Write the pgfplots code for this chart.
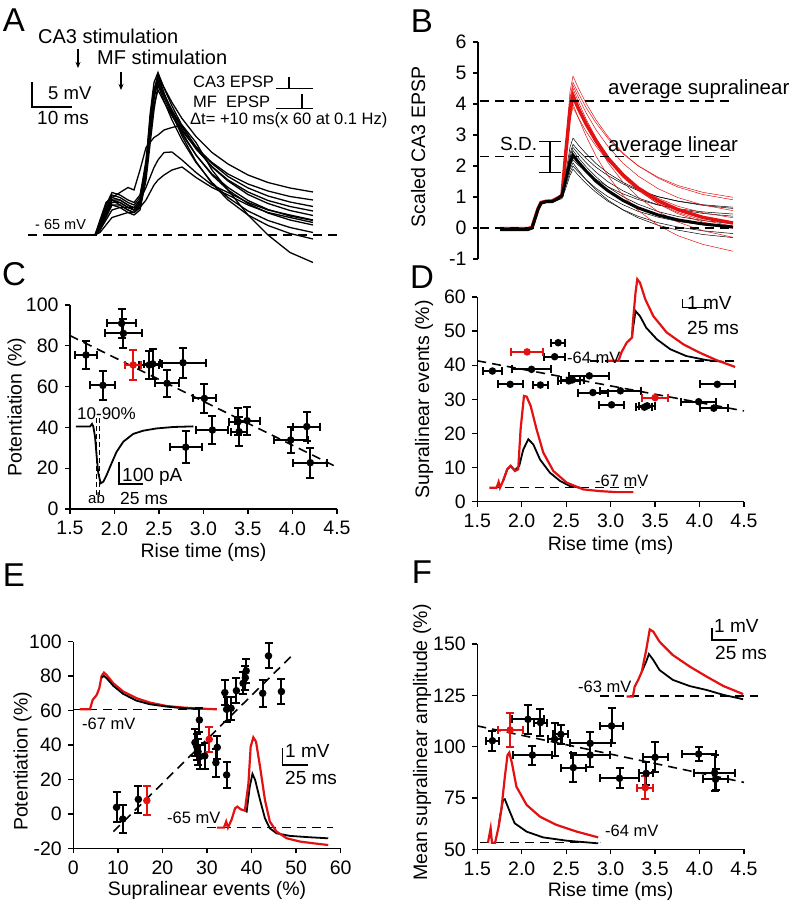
\documentclass[border=0pt]{standalone}
\usepackage{fontspec}
\setmainfont{Liberation Sans}
\usepackage{pgfplots}
\usepackage{pgfplotstable}
\pgfplotsset{compat=1.18}
\usetikzlibrary{arrows.meta}
\definecolor{myred}{RGB}{226,18,18}
\newcommand\fs[1]{\fontsize{#1}{#1}\selectfont}

\pgfplotsset{
 panel/.style={scale only axis, axis lines=left, axis line style={-, line width=1.3pt},
   tick align=outside, major tick length=5pt, tick style={line width=1.3pt, black},
   ticklabel style={font=\fs{19.5}}, xticklabel shift=4pt, yticklabel shift=3pt,
   /pgf/number format/assume math mode=true, clip=false, minor tick num=0},
 ylab/.style 2 args={every axis y label/.style={at={(axis description cs:#1,#2)}, anchor=center, rotate=90, font=\fs{19.5}}},
 xlab/.style={every axis x label/.style={at={(axis description cs:0.5,#1)}, anchor=center, font=\fs{19.5}}},
 pts/.style={only marks, mark=*, mark size=2.7pt, line width=2pt,
   error bars/error bar style={line width=2pt},
   error bars/error mark options={rotate=90, mark size=4pt, line width=2pt}},
 fit/.style={black, line width=1.6pt, dash pattern=on 9pt off 6pt},
 tr/.style={black, line width=1.8pt},
 trr/.style={myred, line width=2.2pt},
}

\pgfplotstableread{
t n1 n2 n3 n4 n5 n6 n7 n8 n9 s1 s2 o
5 0 0 0 0 0 0 0 0 0 0 0 0
16.75 0 0 0 0 0 0 0 0 0 0 0 0
18 2 1.5 2 1 1.5 2.5 1 1.8 1.2 1 0.5 3
19.5 5.5 4.5 5 4 4 6 3.5 5 4.2 3 2 6.5
21 8 7 7.5 6.5 6 8.5 6 7 7 5 3.5 7.5
23 7.5 6 7 6.5 5.5 8 6 6.5 7 5.5 4 8.5
25 6.5 5 6 5.5 4.5 7 5 5.5 6 5.5 4.5 9.5
26.5 6 4.5 5 5 4 6.5 4.5 5 5.5 5.5 4.5 9
28 7.5 6 6.5 6 5 8 5.5 6.5 6.8 7 5.5 13
29.5 15 13 14 12 11 14 12 13 13.5 9.5 7 17.5
30.5 23 21 24 20 18 20 21 22 22 11.5 8.5 18.5
31.5 29 28 30.5 27 25 26 28.5 28 29 13.5 10 19.5
32.5 32 31 32.5 31.5 30 29 32 30.5 31 15 11 20
34 29.5 28.2 29.4 28.3 26.8 26.6 28.4 27.5 28.1 16.5 12 21
36 26.5 25 25.8 24.5 23 23.8 24.3 24 24.8 16.6 13 21.5
38.5 23.3 21.6 21.9 20.5 19 20.8 19.8 20.2 21.2 15 13.6 22
42 19.7 17.7 17.5 16 14.5 17.4 14.7 16 17.2 12.5 11.5 18.5
46 16.5 14.3 13.6 12 10.5 14.5 10.3 12.2 13.7 10 9.5 13
50 14.2 11.7 10.8 9 7.5 12.2 7 9.5 11 8.5 8 9
55 12 9.4 8.1 6.3 4.8 10.2 4 6.9 8.6 6.5 6 4
60 10.5 7.8 6.3 4.4 2.9 8.8 1.9 5.1 6.9 5 4.5 0
65.5 9.4 6.6 4.9 3 1.5 7.7 0.3 3.8 5.7 4 3.5 -3.5
71.25 8.6 5.7 3.9 2 0.5 7 -0.8 2.9 4.8 3 2.5 -5.5
}\tabA

\pgfplotstableread{
x ba b1 b2 b3 b4 b5 b6 b7 b8 ra r1 r2 r3 r4 r5 r6 r7 r8
22 -0.05 -0.05 -0.04 -0.06 -0.05 -0.05 -0.04 -0.05 -0.04 -0.02 -0.02 -0.03 -0.02 -0.01 -0.03 -0.02 -0.02 -0.03
50 -0.05 -0.05 -0.04 -0.06 -0.05 -0.05 -0.04 -0.05 -0.04 -0.02 -0.02 -0.03 -0.02 -0.01 -0.03 -0.02 -0.02 -0.03
54 0.0 0.0 0.02 -0.02 0.0 0.01 0.0 0.01 0.0 0.02 0.03 0.01 0.02 0.0 0.02 0.03 0.02 0.01
57 0.3 0.32 0.28 0.3 0.27 0.31 0.3 0.31 0.29 0.32 0.35 0.3 0.28 0.33 0.3 0.31 0.33 0.3
60 0.6 0.62 0.58 0.6 0.57 0.61 0.6 0.61 0.59 0.62 0.65 0.6 0.58 0.63 0.6 0.61 0.63 0.6
63 0.8 0.82 0.78 0.8 0.77 0.81 0.8 0.81 0.79 0.82 0.85 0.8 0.78 0.83 0.8 0.81 0.83 0.8
68 0.85 0.87 0.84 0.85 0.82 0.86 0.85 0.86 0.84 0.86 0.9 0.85 0.83 0.88 0.85 0.86 0.88 0.85
74 0.85 0.88 0.83 0.86 0.82 0.86 0.85 0.86 0.84 0.87 0.9 0.86 0.84 0.88 0.85 0.86 0.88 0.85
80 0.95 0.98 0.93 0.96 0.9 0.96 0.95 0.96 0.94 0.97 1.0 0.96 0.94 0.98 0.95 0.96 0.98 0.95
84 1.05 1.05 1.0 1.05 0.95 1.0 1.0 1.02 1.0 1.05 1.05 1.0 1.05 1.0 1.05 1.0 1.03 1.02
88 1.6 1.8 1.7 1.5 1.3 1.6 1.5 1.7 1.4 2.5 2.8 2.6 2.4 2.5 2.3 2.6 2.7 2.4
92 2.1 2.6 2.3 1.9 1.7 2.2 2.0 2.4 1.8 3.8 4.4 4.1 3.6 3.9 3.5 4.0 4.2 3.7
95 2.35 2.9 2.6 2.1 1.9 2.5 2.2 2.7 2.0 4.25 4.9 4.6 4.0 4.4 3.9 4.5 4.7 4.2
100 2.14 2.69 2.40 1.88 1.71 2.28 2.04 2.51 1.82 3.88 4.54 4.24 3.58 3.98 3.58 4.1 4.37 3.83
108 1.84 2.4 2.11 1.56 1.44 1.98 1.81 2.25 1.56 3.36 4.03 3.72 2.97 3.38 3.12 3.52 3.89 3.3
118 1.51 2.08 1.80 1.23 1.15 1.65 1.57 1.96 1.28 2.81 3.49 3.17 2.32 2.74 2.64 2.91 3.39 2.74
130 1.2 1.77 1.49 0.9 0.86 1.32 1.33 1.69 1.01 2.25 2.95 2.63 1.68 2.11 2.16 2.3 2.89 2.18
145 0.89 1.47 1.2 0.58 0.59 1.01 1.10 1.42 0.75 1.71 2.42 2.09 1.05 1.48 1.68 1.7 2.39 1.63
160 0.65 1.24 0.97 0.33 0.38 0.77 0.92 1.21 0.54 1.29 2.01 1.68 0.57 1.0 1.32 1.24 2.01 1.21
180 0.42 1.01 0.75 0.09 0.17 0.53 0.74 1.01 0.35 0.88 1.61 1.27 0.09 0.53 0.96 0.78 1.64 0.79
200 0.26 0.86 0.6 -0.07 0.03 0.37 0.62 0.87 0.21 0.59 1.32 0.98 -0.25 0.19 0.7 0.46 1.37 0.5
225 0.13 0.73 0.47 -0.21 -0.09 0.24 0.52 0.75 0.1 0.34 1.08 0.74 -0.53 -0.09 0.49 0.19 1.15 0.25
255 0.03 0.63 0.38 -0.31 -0.18 0.14 0.45 0.67 0.02 0.16 0.91 0.56 -0.75 -0.3 0.33 -0.01 0.99 0.06
}\tabB

\pgfplotstableread{
x y ex ey
1.68 75.5 0.12 6.7
1.87 60.6 0.14 7.0
2.08 91.0 0.16 7.0
2.10 86.1 0.21 7.2
2.39 70.6 0.11 7.0
2.43 71.1 0.10 7.5
2.59 61.6 0.14 6.7
2.77 71.7 0.26 7.3
3.01 54.2 0.13 7.0
2.80 30.3 0.18 7.8
3.10 38.7 0.18 6.7
3.39 42.8 0.10 6.5
3.40 37.9 0.09 7.2
3.49 43.3 0.14 6.9
3.98 33.8 0.19 6.4
4.16 40.4 0.15 7.2
4.20 22.7 0.19 7.4
}\tabC
\pgfplotstableread{
x y ex ey
2.21 70.6 0.09 7.4
}\tabCr

\pgfplotstableread{
x y ex
1.67 38.3 0.11
1.87 34.4 0.14
2.11 38.8 0.22
2.21 34.2 0.085
2.37 42.5 0.12
2.41 46.6 0.08
2.53 35.4 0.12
2.57 35.7 0.13
2.76 36.9 0.225
2.80 32.0 0.17
3.01 28.4 0.14
3.11 32.5 0.235
3.38 27.7 0.09
3.41 28.1 0.09
3.99 29.3 0.2
4.20 34.4 0.2
4.16 27.4 0.155
}\tabD
\pgfplotstableread{
x y ex
2.06 43.9 0.18
3.50 30.5 0.15
}\tabDr

\pgfplotstableread{
x y ey
9.7 3.8 8.7
11.1 -3.0 8.2
14.6 8.4 8.0
27.3 41.4 7.7
27.7 39.0 7.5
28.0 36.1 7.5
28.3 54.5 6.8
28.4 33.2 7.0
29.5 33.6 7.3
32.0 29.7 8.2
32.3 38.6 6.6
34.4 22.6 7.7
34.0 70.4 7.2
34.4 60.7 7.2
35.4 61.3 6.8
36.6 71.5 7.3
38.1 75.8 6.5
38.6 79.0 7.0
38.8 83.0 7.0
42.5 70.0 7.7
43.8 91.7 7.2
46.7 71.0 7.4
}\tabE
\pgfplotstableread{
x y ey
16.5 7.7 8.2
30.5 43.3 7.2
}\tabEr

\pgfplotstableread{
x y ex ey
1.67 102.9 0.075 4.9
2.07 113.3 0.18 7.0
2.12 95.9 0.22 4.6
2.21 111.7 0.07 6.5
2.37 103.6 0.08 8.0
2.44 106.0 0.085 4.6
2.58 89.8 0.14 7.1
2.77 101.6 0.23 5.7
2.77 95.9 0.22 6.0
3.01 110.1 0.13 8.5
3.10 84.6 0.22 4.9
3.40 87.0 0.08 5.5
3.50 94.8 0.14 7.3
3.99 96.4 0.19 3.5
4.17 87.3 0.23 8.8
4.18 84.1 0.14 5.0
}\tabF
\pgfplotstableread{
x y ex ey
1.87 108.1 0.14 8.5
3.39 80.0 0.09 5.7
}\tabFr

\begin{document}
\begin{tikzpicture}
\path[use as bounding box] (0,0) rectangle (796pt,906pt);

% ---------------- A ----------------
\begin{axis}[at={(28pt,631pt)}, anchor=south west, scale only axis, width=315pt, height=215pt,
  xmin=0, xmax=78.75, ymin=-8, ymax=35, hide axis, clip=false]
\pgfplotsinvokeforeach{n1,n2,n3,n4,n5,n6,n7,n8,n9,s1,s2,o}{
  \addplot[black, line width=1.3pt, no marks] table[x=t,y=#1]{\tabA};}
\addplot[black, line width=1.3pt, dash pattern=on 9pt off 6pt] coordinates {(0,0)(78.75,0)};
\addplot[black, line width=1.3pt] coordinates {(1,30.6)(1,25.6)(11,25.6)};
\addplot[black, line width=1.2pt] coordinates {(62,29.3)(71.25,29.3)};
\addplot[black, line width=1.2pt] coordinates {(65.25,31.6)(65.25,29.3)};
\addplot[black, line width=1.2pt] coordinates {(62,25.3)(71.25,25.3)};
\addplot[black, line width=1.2pt] coordinates {(68.5,28.2)(68.5,25.3)};
\end{axis}

% ---------------- B ----------------
\begin{axis}[panel, at={(478pt,647pt)}, anchor=south west, width=270pt, height=217pt,
  xmin=0, xmax=270, ymin=-1, ymax=6, axis x line=none, ytick={-1,0,...,6},
  ylabel={Scaled CA3 EPSP}, ylab={-0.222}{0.516}]
\pgfplotsinvokeforeach{b1,b2,b3,b4,b5,b6,b7,b8}{
  \addplot[black, line width=0.5pt, no marks] table[x=x,y=#1]{\tabB};}
\pgfplotsinvokeforeach{r1,r2,r3,r4,r5,r6,r7,r8}{
  \addplot[myred, line width=0.5pt, no marks] table[x=x,y=#1]{\tabB};}
\addplot[myred, line width=3.5pt, no marks] table[x=x,y=ra]{\tabB};
\addplot[black, line width=3pt, no marks] table[x=x,y=ba]{\tabB};
\addplot[fit, line width=1.3pt] coordinates {(2,0)(255,0)};
\addplot[fit, line width=1.3pt] coordinates {(2,2.3)(255,2.3)};
\addplot[fit, line width=1.3pt] coordinates {(2,4.1)(255,4.1)};
\addplot[black, line width=1.3pt] coordinates {(72,1.8)(72,2.8)};
\addplot[black, line width=1.3pt] coordinates {(61,2.8)(83,2.8)};
\addplot[black, line width=1.3pt] coordinates {(61,1.8)(83,1.8)};
\end{axis}

% ---------------- C ----------------
\begin{axis}[panel, at={(70pt,397pt)}, anchor=south west, width=267pt, height=204pt,
  xmin=1.5, xmax=4.5, ymin=0, ymax=100, xtick={1.5,2,...,4.5}, ytick={0,20,...,100},
  xticklabel style={/pgf/number format/fixed, /pgf/number format/fixed zerofill, /pgf/number format/precision=1},
  xlabel={Rise time (ms)}, ylabel={Potentiation (\%)}, ylab={-0.2}{0.5}, xlab={-0.215}]
\addplot[tr] coordinates {(1.567,40.4)(1.725,40.4)(1.747,41.7)(1.762,40.4)(1.781,35.5)(1.80,25.7)(1.818,17.5)(1.845,12.6)(1.875,13.4)(1.912,16.7)(1.968,22.5)(2.024,28.1)(2.099,33.0)(2.21,36.8)(2.324,38.4)(2.474,39.5)(2.661,40.2)(2.886,40.5)};
\addplot[black, line width=1pt, dash pattern=on 5pt off 3pt] coordinates {(1.80,44.6)(1.80,6.9)};
\addplot[black, line width=1pt, dash pattern=on 5pt off 3pt] coordinates {(1.837,44.6)(1.837,6.9)};
\addplot[black, line width=1.3pt] coordinates {(2.05,23.2)(2.05,12.25)(2.32,12.25)};
\addplot[fit] coordinates {(1.5,85)(4.5,20.5)};
\addplot[pts, black, error bars/x dir=both, error bars/x explicit, error bars/y dir=both, error bars/y explicit]
  table[x=x, y=y, x error=ex, y error=ey]{\tabC};
\addplot[pts, myred, error bars/x dir=both, error bars/x explicit, error bars/y dir=both, error bars/y explicit]
  table[x=x, y=y, x error=ex, y error=ey]{\tabCr};
\end{axis}

% ---------------- D ----------------
\begin{axis}[panel, at={(477.3pt,404.3pt)}, anchor=south west, width=266.7pt, height=204.7pt,
  xmin=1.5, xmax=4.5, ymin=0, ymax=60, xtick={1.5,2,...,4.5}, ytick={0,10,...,60},
  xticklabel style={/pgf/number format/fixed, /pgf/number format/fixed zerofill, /pgf/number format/precision=1},
  xlabel={Rise time (ms)}, ylabel={Supralinear events (\%)}, ylab={-0.2}{0.5}, xlab={-0.215}]
\addplot[black, line width=1.2pt, dash pattern=on 9pt off 6pt] coordinates {(2.77,41.25)(4.42,41.25)};
\addplot[black, line width=1.2pt, dash pattern=on 9pt off 6pt] coordinates {(1.64,4.1)(3.33,4.1)};
\addplot[tr] coordinates {(3.24,48.1)(3.25,50.5)(3.28,55.9)(3.33,54.4)(3.40,51.0)(3.52,47.6)(3.67,44.7)(3.85,42.7)(4.08,41.5)(4.27,41.0)};
\addplot[trr] coordinates {(2.97,41.3)(3.09,41.3)(3.12,43.7)(3.18,46.6)(3.24,48.1)(3.25,52.5)(3.28,61.3)(3.30,65.2)(3.33,64.2)(3.39,59.3)(3.48,54.4)(3.63,49.6)(3.82,46.1)(4.0,43.7)(4.19,41.5)(4.40,39.5)};
\addplot[tr] coordinates {(1.79,6.1)(1.837,9.5)(1.875,10.5)(1.924,9.2)(1.972,10.5)(2.017,15.3)(2.074,18.3)(2.13,16.8)(2.205,12.4)(2.317,8.5)(2.43,6.1)(2.54,4.6)(2.655,4.1)};
\addplot[trr] coordinates {(1.635,4.1)(1.717,4.1)(1.74,5.8)(1.755,4.1)(1.79,6.1)(1.837,9.5)(1.875,10.5)(1.924,9.0)(1.96,9.5)(1.987,21.2)(2.025,31.0)(2.055,30.8)(2.10,28.1)(2.167,21.2)(2.242,14.4)(2.355,9.0)(2.505,5.6)(2.692,3.6)(2.88,3.1)(3.067,2.8)(3.255,2.8)};
\addplot[black, line width=1.3pt] coordinates {(3.81,59.5)(3.81,56.9)(4.11,56.9)};
\addplot[fit] coordinates {(1.5,41.3)(4.5,26.6)};
\addplot[pts, black, error bars/x dir=both, error bars/x explicit]
  table[x=x, y=y, x error=ex]{\tabD};
\addplot[pts, myred, error bars/x dir=both, error bars/x explicit]
  table[x=x, y=y, x error=ex]{\tabDr};
\end{axis}

% ---------------- E ----------------
\begin{axis}[panel, at={(73.3pt,57.7pt)}, anchor=south west, width=267.4pt, height=206.7pt,
  xmin=0, xmax=60, ymin=-20, ymax=100, xtick={0,10,...,60}, ytick={-20,0,...,100},
  xlabel={Supralinear events (\%)}, ylabel={Potentiation (\%)}, ylab={-0.19}{0.42}, xlab={-0.205}]
\addplot[black, line width=1.2pt, dash pattern=on 9pt off 6pt] coordinates {(0,60.7)(32.5,60.7)};
\addplot[black, line width=1.2pt, dash pattern=on 9pt off 6pt] coordinates {(29.9,-8)(58.3,-8)};
\addplot[trr] coordinates {(1.5,60.7)(3.74,60.7)(4.34,66.1)(5.24,69.0)(5.83,72.9)(6.36,80.1)(6.88,82.0)(7.48,80.6)(8.98,75.8)(11.2,71.0)(14.2,67.1)(17.2,64.6)(20.9,62.6)(24.7,61.7)(28.4,61.1)(32.2,60.7)};
\addplot[tr] coordinates {(6.36,79.1)(6.88,80.1)(7.48,78.7)(8.98,74.3)(11.2,69.6)(14.2,65.7)(17.2,63.6)(20.9,62.3)(24.7,61.3)(28.4,60.9)};
\addplot[tr] coordinates {(38.5,1.9)(38.9,1.3)(39.6,15.8)(40.2,23.2)(40.8,19.7)(41.9,8.1)(43.0,-2.6)(44.1,-8.4)(45.6,-11.3)(48.6,-12.8)(53.1,-13.6)(57.2,-14.2)};
\addplot[trr] coordinates {(32.2,-8.0)(33.8,-8.0)(34.3,-4.5)(34.7,-8.0)(35.5,-3.5)(36.3,3.2)(36.8,4.2)(37.6,2.6)(38.5,1.9)(39.3,17.7)(39.8,39.0)(40.4,44.4)(41.0,41.9)(41.9,27.4)(43.0,8.1)(44.1,-4.5)(45.6,-10.3)(47.9,-14.2)(50.9,-16.1)(53.9,-17.1)(57.2,-18.1)};
\addplot[black, line width=1.3pt] coordinates {(47.0,38.1)(47.0,28.4)(52.7,28.4)};
\addplot[fit] coordinates {(9,-10.3)(49,91.7)};
\addplot[pts, black, error bars/y dir=both, error bars/y explicit]
  table[x=x, y=y, y error=ey]{\tabE};
\addplot[pts, myred, error bars/y dir=both, error bars/y explicit]
  table[x=x, y=y, y error=ey]{\tabEr};
\end{axis}

% ---------------- F ----------------
\begin{axis}[panel, at={(477.3pt,56.7pt)}, anchor=south west, width=266.7pt, height=205.3pt,
  xmin=1.5, xmax=4.5, ymin=50, ymax=150, xtick={1.5,2,...,4.5}, ytick={50,75,...,150},
  xticklabel style={/pgf/number format/fixed, /pgf/number format/fixed zerofill, /pgf/number format/precision=1},
  xlabel={Rise time (ms)}, ylabel={Mean supralinear amplitude (\%)}, ylab={-0.207}{0.52}, xlab={-0.205}]
\addplot[black, line width=1.2pt, dash pattern=on 9pt off 6pt] coordinates {(2.88,124.7)(4.66,124.7)};
\addplot[black, line width=1.2pt, dash pattern=on 9pt off 6pt] coordinates {(1.53,53.2)(2.88,53.2)};
\addplot[tr] coordinates {(3.35,136.5)(3.40,141.4)(3.43,145.1)(3.48,142.2)(3.55,137.3)(3.70,132.5)(3.89,129.5)(4.08,127.6)(4.27,125.2)(4.49,123.1)};
\addplot[trr] coordinates {(3.18,124.4)(3.25,124.4)(3.27,129.2)(3.31,132.5)(3.35,136.5)(3.40,147.1)(3.44,157.1)(3.48,156.0)(3.55,151.1)(3.70,144.6)(3.89,139.0)(4.08,134.1)(4.27,129.5)(4.49,125.6)};
\addplot[tr] coordinates {(1.74,61.0)(1.755,65.9)(1.79,74.0)(1.81,74.4)(1.85,70.0)(1.92,62.7)(2.055,58.6)(2.24,55.8)(2.505,54.2)(2.86,52.9)};
\addplot[trr] coordinates {(1.62,53.2)(1.65,60.2)(1.665,53.2)(1.70,53.2)(1.74,61.0)(1.77,69.2)(1.81,85.4)(1.84,95.9)(1.86,97.1)(1.89,91.9)(1.94,80.5)(2.055,71.6)(2.205,65.9)(2.39,61.9)(2.62,58.6)(2.86,55.8)};
\addplot[black, line width=1.3pt] coordinates {(4.14,157.6)(4.14,152)(4.42,152)};
\addplot[fit] coordinates {(1.5,110.1)(4.5,82.6)};
\addplot[pts, black, error bars/x dir=both, error bars/x explicit, error bars/y dir=both, error bars/y explicit]
  table[x=x, y=y, x error=ex, y error=ey]{\tabF};
\addplot[pts, myred, error bars/x dir=both, error bars/x explicit, error bars/y dir=both, error bars/y explicit]
  table[x=x, y=y, x error=ex, y error=ey]{\tabFr};
\end{axis}

% ---------------- texts ----------------
\begin{scope}[x=1pt, y=-1pt, shift={(0pt,906pt)}]
\node[font=\fs{33}] at (14,20) {A};
\node[font=\fs{33}] at (422,21) {B};
\node[font=\fs{33}] at (14,274) {C};
\node[font=\fs{33}] at (422,277) {D};
\node[font=\fs{33}] at (14,575) {E};
\node[font=\fs{33}] at (422,572) {F};
% A
\node[anchor=base west, inner sep=0pt, font=\fs{20}] at (38,43.3) {CA3 stimulation};
\node[anchor=base west, inner sep=0pt, font=\fs{20}] at (97,65) {MF stimulation};
\draw[line width=1.2pt, -{Stealth[length=6pt,width=5pt]}] (78,49) -- (78,68);
\draw[line width=1.2pt, -{Stealth[length=6pt,width=5pt]}] (121,72) -- (121,90);
\node[anchor=base west, inner sep=0pt, font=\fs{18.5}] at (48,100) {5 mV};
\node[anchor=base west, inner sep=0pt, font=\fs{19}] at (37,125) {10 ms};
\node[anchor=base west, inner sep=0pt, font=\fs{16.5}] at (193,88) {CA3 EPSP};
\node[anchor=base west, inner sep=0pt, font=\fs{16.5}] at (193,108) {MF\ \ EPSP};
\node[anchor=base west, inner sep=0pt, font=\fs{16.5}] at (190,125) {Δt= +10 ms(x 60 at 0.1 Hz)};
\node[anchor=base west, inner sep=0pt, font=\fs{14.5}] at (35,230) {- 65 mV};
% B
\node[anchor=base west, inner sep=0pt, font=\fs{20.5}] at (608,95) {average supralinear};
\node[anchor=base west, inner sep=0pt, font=\fs{20.5}] at (608,152) {average linear};
\node[anchor=base west, inner sep=0pt, font=\fs{19}] at (500,151) {S.D.};
% C
\node[anchor=base west, inner sep=0pt, font=\fs{17}] at (77,420) {10-90\%};
\node[anchor=base west, inner sep=0pt, font=\fs{15}] at (88,504) {ab};
\node[anchor=base west, inner sep=0pt, font=\fs{19}] at (122,482) {100 pA};
\node[anchor=base west, inner sep=0pt, font=\fs{17.5}] at (120,505) {25 ms};
% D
\node[anchor=base west, inner sep=0pt, font=\fs{16.5}] at (567,364) {-64 mV};
\node[anchor=base west, inner sep=0pt, font=\fs{16.5}] at (595,487) {-67 mV};
\node[anchor=base west, inner sep=0pt, font=\fs{19}] at (687,310) {1 mV};
\node[anchor=base west, inner sep=0pt, font=\fs{19}] at (687,335) {25 ms};
% E
\node[anchor=base west, inner sep=0pt, font=\fs{16.5}] at (82,730) {-67 mV};
\node[anchor=base west, inner sep=0pt, font=\fs{16.5}] at (167,824) {-65 mV};
\node[anchor=base west, inner sep=0pt, font=\fs{19}] at (285,758) {1 mV};
\node[anchor=base west, inner sep=0pt, font=\fs{19}] at (285,785) {25 ms};
% F
\node[anchor=base west, inner sep=0pt, font=\fs{16.5}] at (578,693) {-63 mV};
\node[anchor=base west, inner sep=0pt, font=\fs{16.5}] at (605,837) {-64 mV};
\node[anchor=base west, inner sep=0pt, font=\fs{19}] at (714,633) {1 mV};
\node[anchor=base west, inner sep=0pt, font=\fs{19}] at (715,660) {25 ms};
\end{scope}
\end{tikzpicture}
\end{document}
